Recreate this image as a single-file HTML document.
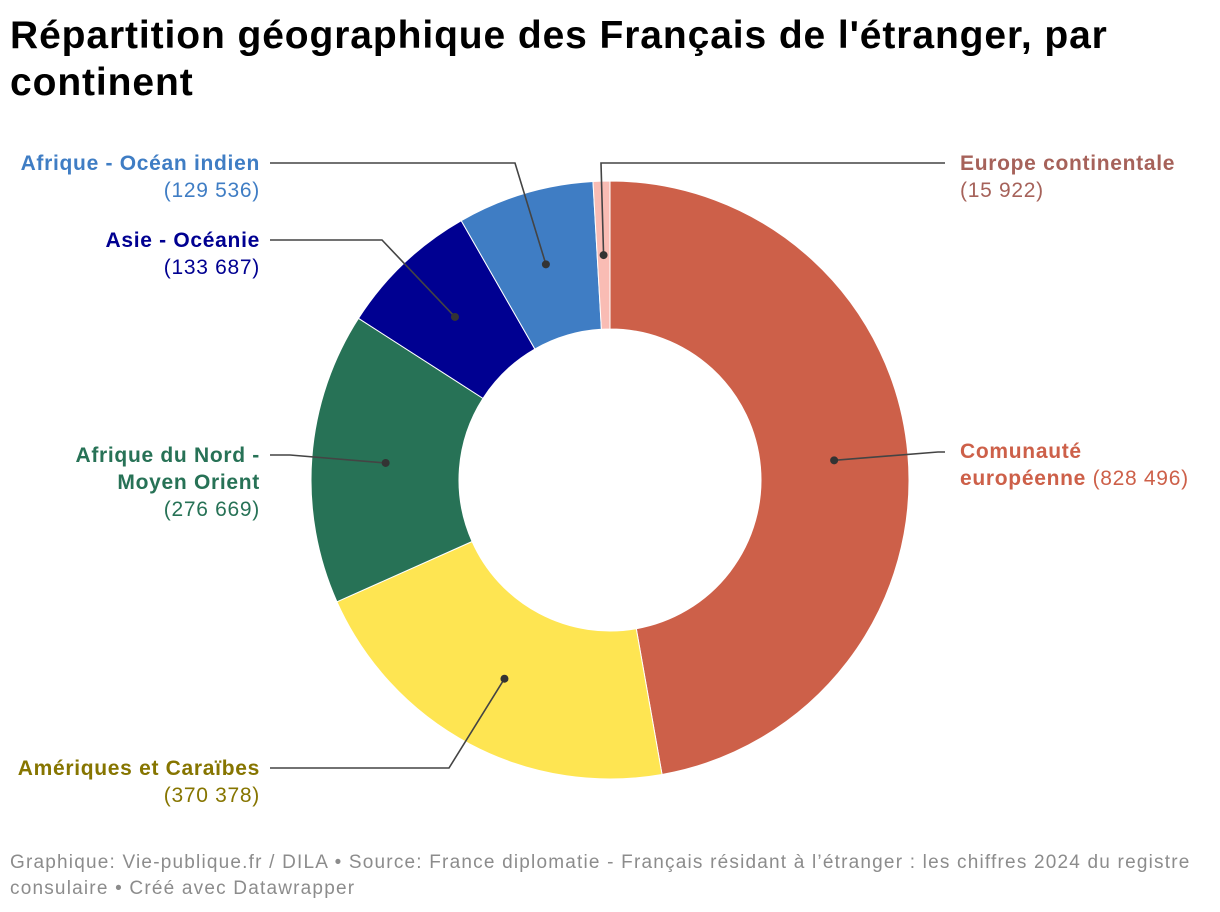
<!DOCTYPE html>
<html><head><meta charset="utf-8">
<style>
body{margin:0;width:1220px;height:912px;background:#fff;font-family:"Liberation Sans",sans-serif;overflow:hidden}
h1{position:absolute;left:10px;top:12px;margin:0;font-size:39px;line-height:47px;font-weight:bold;color:#000;width:1210px;letter-spacing:0.9px}
.foot{position:absolute;left:10px;top:850px;font-size:19px;line-height:26px;color:#8c8c8c;width:1210px;letter-spacing:1.2px}
.lab{position:absolute;font-size:21px;line-height:27px;letter-spacing:0.7px}
.lab b{font-weight:bold}
.r{text-align:right}
</style></head><body>
<h1>Répartition géographique des Français de l'étranger, par<br>continent</h1>
<svg id="chart" width="1220" height="912" style="position:absolute;left:0;top:0"></svg>
<div class="lab r" style="right:960px;top:150px;color:#3f7dc4"><b>Afrique - Océan indien</b><br>(129 536)</div>
<div class="lab r" style="right:960px;top:227px;color:#000091"><b>Asie - Océanie</b><br>(133 687)</div>
<div class="lab r" style="right:960px;top:442px;color:#277256"><b>Afrique du Nord -<br>Moyen Orient</b><br>(276 669)</div>
<div class="lab r" style="right:960px;top:755px;color:#867500"><b>Amériques et Caraïbes</b><br>(370 378)</div>
<div class="lab" style="left:960px;top:150px;color:#a6625a"><b>Europe continentale</b><br>(15 922)</div>
<div class="lab" style="left:960px;top:438px;color:#cd6049"><b>Comunauté<br>européenne</b> (828 496)</div>
<div class="foot">Graphique: Vie-publique.fr / DILA • Source: France diplomatie - Français résidant à l’étranger : les chiffres 2024 du registre<br>consulaire • Créé avec Datawrapper</div>
<script>
const categories=["Comunauté européenne","Amériques et Caraïbes","Afrique du Nord - Moyen Orient","Asie - Océanie","Afrique - Océan indien","Europe continentale"];
const values=[828496,370378,276669,133687,129536,15922];
const colors=["#cd6049","#fee552","#277256","#000091","#3f7dc4","#f9bcb4"];
const cx=610,cy=480,R=299,r=151,rd=225;
const labelAnchors=[[945,452],[270,768],[270,455],[270,240],[270,163],[945,163]];
const elbows=[[938,452],[449,768],[290,455],[382,240],[515,163],[601,163]];
const svg=document.getElementById('chart');
const NS="http://www.w3.org/2000/svg";
const total=values.reduce((a,b)=>a+b,0);
function pt(a,rad){return [cx+rad*Math.sin(a),cy-rad*Math.cos(a)];}
let a0=0;
values.forEach((v,i)=>{
  const a1=a0+v/total*2*Math.PI;
  const [x1,y1]=pt(a0,R),[x2,y2]=pt(a1,R),[x3,y3]=pt(a1,r),[x4,y4]=pt(a0,r);
  const lg=(a1-a0)>Math.PI?1:0;
  const p=document.createElementNS(NS,'path');
  p.setAttribute('d',`M${x1},${y1}A${R},${R} 0 ${lg} 1 ${x2},${y2}L${x3},${y3}A${r},${r} 0 ${lg} 0 ${x4},${y4}Z`);
  p.setAttribute('fill',colors[i]);p.setAttribute('stroke','#fff');p.setAttribute('stroke-width','1');
  
  
  svg.appendChild(p);
  a0=a1;
});
a0=0;
values.forEach((v,i)=>{
  const a1=a0+v/total*2*Math.PI;const m=(a0+a1)/2;a0=a1;
  const [dx,dy]=pt(m,rd);
  const [lx,ly]=labelAnchors[i];const [ex,ey]=elbows[i];
  const l=document.createElementNS(NS,'polyline');
  l.setAttribute('points',`${lx},${ly} ${ex},${ey} ${dx},${dy}`);
  l.setAttribute('fill','none');l.setAttribute('stroke','#444');l.setAttribute('stroke-width','1.6');
  
  
  svg.appendChild(l);
  const c=document.createElementNS(NS,'circle');
  c.setAttribute('cx',dx);c.setAttribute('cy',dy);c.setAttribute('r',4);c.setAttribute('fill','#333');
  
  
  svg.appendChild(c);
});
</script>
</body></html>
